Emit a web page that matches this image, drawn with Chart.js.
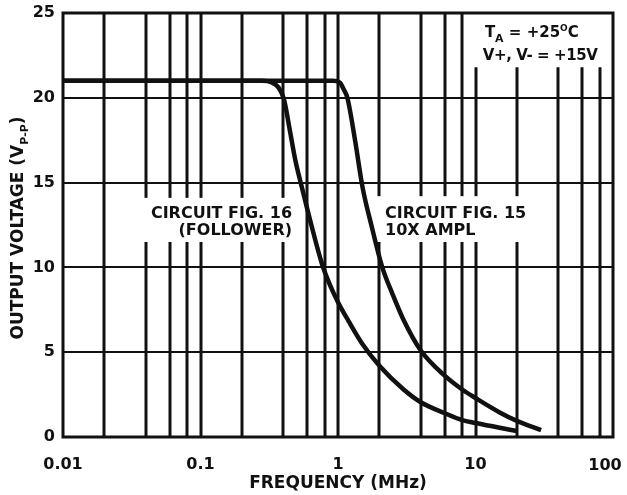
<!DOCTYPE html>
<html>
<head>
<meta charset="utf-8">
<script src="https://cdn.jsdelivr.net/npm/chart.js@4.4.1/dist/chart.umd.min.js"></script>
<style>
  html, body { margin: 0; padding: 0; background: #fff; }
</style>
</head>
<body>
<canvas id="myChart" width="627" height="495"></canvas>
<script>
// values (MHz, Vp-p)
const freqFollower = [0.01, 0.1, 0.28, 0.33, 0.37, 0.405, 0.446, 0.49, 0.547, 0.647, 0.765, 0.875, 1, 1.2, 1.5, 2, 3, 4, 6, 8, 10, 15, 20];
const voltFollower = [21, 21, 21, 20.9, 20.6, 19.9, 18.1, 16.3, 14.7, 12.35, 10.2, 8.95, 7.95, 6.8, 5.5, 4.2, 2.8, 2.05, 1.4, 1.0, 0.83, 0.55, 0.35];
const freqAmpl = [0.01, 0.1, 0.92, 1.03, 1.1, 1.17, 1.33, 1.51, 1.76, 2.1, 2.5, 3, 4, 6, 8, 10, 15, 20, 30];
const voltAmpl = [21, 21, 21, 20.9, 20.5, 20, 17.5, 14.7, 12.4, 10, 8.4, 6.9, 5.1, 3.6, 2.8, 2.3, 1.45, 0.95, 0.4];

const xTickValues = [0.01, 0.1, 1, 10, 100];
const yTickValues = [0, 5, 10, 15, 20, 25];
const xGridValues = [0.02, 0.04, 0.06, 0.08, 0.1, 0.2, 0.4, 0.6, 0.8, 1, 2, 4, 6, 8, 10, 20, 40, 60, 80];

const FONT = 'DejaVu Sans';
const INK = '#111';

// where the vertical grid lines are broken for the notes (in volts)
const gridGaps = [
  { at: [0.04, 0.06, 0.08, 0.1, 0.2, 0.4], from: 11.5, to: 14.1 },
  { at: [2, 4, 6, 8, 10, 20], from: 11.5, to: 14.2 },
  { at: [10, 20, 40, 60, 80], from: 21.8, to: 25 }
];

// notes: pieces are [text, size, baseline shift]
const notes = [
  { x: 0.463, y: 12.9, align: 'right', parts: [['CIRCUIT FIG. 16', 16, 0]] },
  { x: 0.463, y: 11.9, align: 'right', parts: [['(FOLLOWER)', 16, 0]] },
  { x: 2.2, y: 12.9, align: 'left', parts: [['CIRCUIT FIG. 15', 16, 0]] },
  { x: 2.2, y: 11.9, align: 'left', parts: [['10X AMPL', 16, 0]] },
  { x: 11.7, y: 23.6, align: 'left', parts: [['T', 15, 0], ['A', 11, 5], [' = +25', 15, 0], ['O', 9, -6], ['C', 15, 0]] },
  { x: 11.3, y: 22.25, align: 'left', parts: [['V+, V- = +15V', 15, 0]], spacing: -0.4 }
];

function partsWidth(ctx, parts) {
  let w = 0;
  parts.forEach(p => { ctx.font = 'bold ' + p[1] + 'px "' + FONT + '"'; w += ctx.measureText(p[0]).width; });
  return w;
}
function drawParts(ctx, parts, x, y) {
  parts.forEach(p => {
    ctx.font = 'bold ' + p[1] + 'px "' + FONT + '"';
    ctx.fillText(p[0], x, y + p[2]);
    x += ctx.measureText(p[0]).width;
  });
}

const paperPlugin = {
  id: 'paper',
  beforeDatasetsDraw(chart) {
    const { ctx, chartArea: a, scales: { x, y } } = chart;
    ctx.save();
    ctx.strokeStyle = INK;
    ctx.lineWidth = 3;
    xGridValues.forEach(f => {
      const px = Math.round(x.getPixelForValue(f));
      let segs = [[0, 25]];
      gridGaps.forEach(g => {
        if (!g.at.includes(f)) return;
        const out = [];
        segs.forEach(s => {
          if (g.to <= s[0] || g.from >= s[1]) { out.push(s); return; }
          if (g.from > s[0]) out.push([s[0], g.from]);
          if (g.to < s[1]) out.push([g.to, s[1]]);
        });
        segs = out;
      });
      segs.forEach(s => {
        ctx.beginPath();
        ctx.moveTo(px, y.getPixelForValue(s[0]));
        ctx.lineTo(px, y.getPixelForValue(s[1]));
        ctx.stroke();
      });
    });
    ctx.strokeRect(a.left, a.top, a.right - a.left, a.bottom - a.top);
    ctx.restore();
  },
  afterDatasetsDraw(chart) {
    const { ctx, chartArea: a, scales: { x, y } } = chart;
    ctx.save();
    ctx.fillStyle = INK;
    ctx.textBaseline = 'alphabetic';
    ctx.textAlign = 'left';
    notes.forEach(n => {
      ctx.letterSpacing = (n.spacing || 0) + 'px';
      let px = x.getPixelForValue(n.x);
      if (n.align === 'right') px -= partsWidth(ctx, n.parts);
      drawParts(ctx, n.parts, px, y.getPixelForValue(n.y));
    });
    ctx.letterSpacing = '0px';

    // last x label would run off the canvas, so it sits a little to the left
    const last = [[String(xTickValues[xTickValues.length - 1]), 16, 0]];
    drawParts(ctx, last, x.getPixelForValue(100) - 8 - partsWidth(ctx, last) / 2, 470);

    // axis titles
    const xTitle = [['FREQUENCY (MHz)', 17, 0]];
    drawParts(ctx, xTitle, (a.left + a.right) / 2 - partsWidth(ctx, xTitle) / 2, 488);

    const yTitle = [['OUTPUT VOLTAGE (V', 17, 0], ['P-P', 11, 5], [')', 17, 0]];
    ctx.translate(23, 228);
    ctx.rotate(-Math.PI / 2);
    drawParts(ctx, yTitle, -partsWidth(ctx, yTitle) / 2, 0);
    ctx.restore();
  }
};

const ctx = document.getElementById('myChart');
const myChart = new Chart(ctx, {
  type: 'line',
  data: {
    datasets: [
      {
        label: 'Circuit Fig. 16 (follower)',
        data: freqFollower.map((f, i) => ({ x: f, y: voltFollower[i] })),
        borderColor: INK,
        borderWidth: 4.5,
        pointRadius: 0,
        cubicInterpolationMode: 'monotone',
        fill: false
      },
      {
        label: 'Circuit Fig. 15 10X ampl',
        data: freqAmpl.map((f, i) => ({ x: f, y: voltAmpl[i] })),
        borderColor: INK,
        borderWidth: 4.5,
        pointRadius: 0,
        cubicInterpolationMode: 'monotone',
        fill: false
      }
    ]
  },
  options: {
    responsive: false,
    animation: false,
    layout: { padding: { top: 13, right: 14, left: 0, bottom: 0 } },
    plugins: { legend: { display: false }, tooltip: { enabled: false } },
    scales: {
      x: {
        type: 'logarithmic',
        min: 0.01,
        max: 100,
        afterBuildTicks: axis => { axis.ticks = xTickValues.map(v => ({ value: v })); },
        afterFit: axis => { axis.height = 58; axis.paddingLeft = 0; axis.paddingRight = 0; },
        grid: { display: false },
        border: { display: false },
        ticks: {
          autoSkip: false,
          maxRotation: 0,
          padding: 10,
          color: INK,
          font: { family: FONT, size: 16, weight: 'bold' },
          callback: v => (v === 100 ? '' : String(v))
        }
      },
      y: {
        min: 0,
        max: 25,
        afterBuildTicks: axis => { axis.ticks = yTickValues.map(v => ({ value: v })); },
        afterFit: axis => { axis.width = 63; axis.paddingTop = 0; axis.paddingBottom = 0; },
        grid: { color: INK, lineWidth: 2, drawTicks: false },
        border: { display: false },
        ticks: {
          padding: 8,
          color: INK,
          font: { family: FONT, size: 16, weight: 'bold' }
        }
      }
    }
  },
  plugins: [paperPlugin]
});
</script>
</body>
</html>
